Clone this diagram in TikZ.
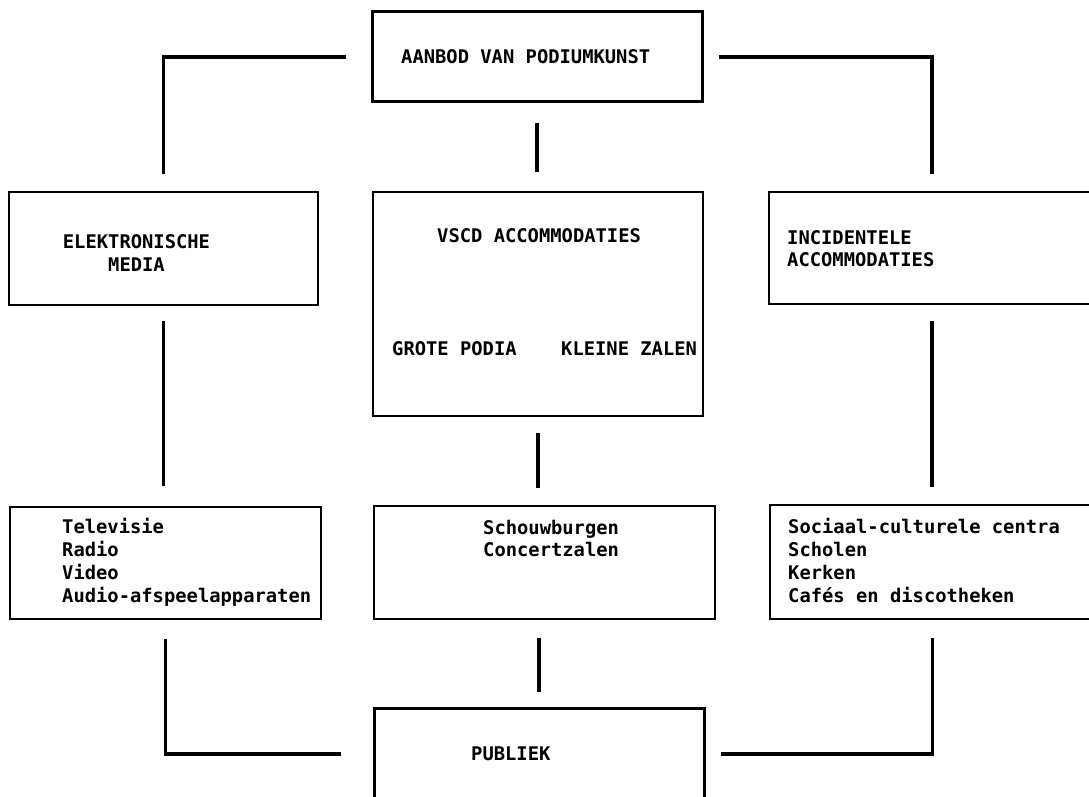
\documentclass[tikz,border=0pt]{standalone}
\usepackage{fontspec}
\newfontfamily\monofont{DejaVu Sans Mono}

\begin{document}
\begin{tikzpicture}[x=1pt,y=-1pt,
    box/.style={draw,line width=1.6pt,inner sep=0pt},
    bigbox/.style={box,line width=3pt},
    lbl/.style={font=\monofont\bfseries\fontsize{18.8}{22.7}\selectfont,inner sep=0pt,anchor=base west,align=left},
    link/.style={line width=3.6pt}]
        \useasboundingbox (0,0) rectangle (1089,797);
        \clip (0,0) rectangle (1089,797);
        % boxes
        \node[bigbox,minimum width=330,minimum height=90] (aanbod) at (537,57) {};
        \node[box,minimum width=309,minimum height=113] (elek) at (163.5,248.5) {};
        \node[box,minimum width=330,minimum height=224] (vscd) at (538,304) {};
        \node[box,minimum width=326,minimum height=112] (incid) at (932,248) {};
        \node[box,minimum width=311,minimum height=112] (media) at (165.5,563) {};
        \node[box,minimum width=341,minimum height=113] (zalen) at (544.5,562.5) {};
        \node[box,minimum width=325,minimum height=114] (centra) at (932.5,562) {};
        \node[bigbox,minimum width=330,minimum height=92] (publiek) at (539,754) {};
        % texts (multi-line: placed at baseline of last line)
        \node[lbl] (t-aanbod) at (401,64) {AANBOD VAN PODIUMKUNST};
        \node[lbl,align=center,anchor=base] (t-elek) at (136.5,271) {ELEKTRONISCHE\\MEDIA};
        \node[lbl] (t-vscd) at (437,242) {VSCD ACCOMMODATIES};
        \node[lbl] (t-grote) at (392,355) {GROTE PODIA};
        \node[lbl] (t-kleine) at (561,355) {KLEINE ZALEN};
        \node[lbl] (t-incid) at (787,266.7) {INCIDENTELE\\ACCOMMODATIES};
        \node[lbl] (t-media) at (62,602) {Televisie\\Radio\\Video\\Audio-afspeelapparaten};
        \node[lbl] (t-zalen) at (483,556.7) {Schouwburgen\\Concertzalen};
        \node[lbl] (t-centra) at (788,602) {Sociaal-culturele centra\\Scholen\\Kerken\\Cafés en discotheken};
        \node[lbl] (t-publiek) at (471,760) {PUBLIEK};
        % connectors
        \draw[link] ([xshift=-25pt]aanbod.west) -| ([yshift=17pt]elek.north);
        \draw[link] ([xshift=15pt]aanbod.east) -| ([yshift=17pt]incid.north);
        \draw[link,shorten <=20pt,shorten >=19pt] (aanbod.south) -- (aanbod.south |- vscd.north);
        \draw[link,shorten <=15pt,shorten >=20pt] (elek.south) -- (elek.south |- media.north);
        \draw[link,shorten <=16pt,shorten >=17pt] (vscd.south) -- (vscd.south |- zalen.north);
        \draw[link,shorten <=16pt,shorten >=17pt] (incid.south) -- (incid.south |- centra.north);
        \draw[link] ([yshift=-19pt]media.south) |- ([xshift=-32pt]publiek.west);
        \draw[link,shorten <=18pt,shorten >=15pt] (publiek.north |- zalen.south) -- (publiek.north);
        \draw[link] ([yshift=-18pt]centra.south) |- ([xshift=15pt]publiek.east);
      \end{tikzpicture}
\end{document}
